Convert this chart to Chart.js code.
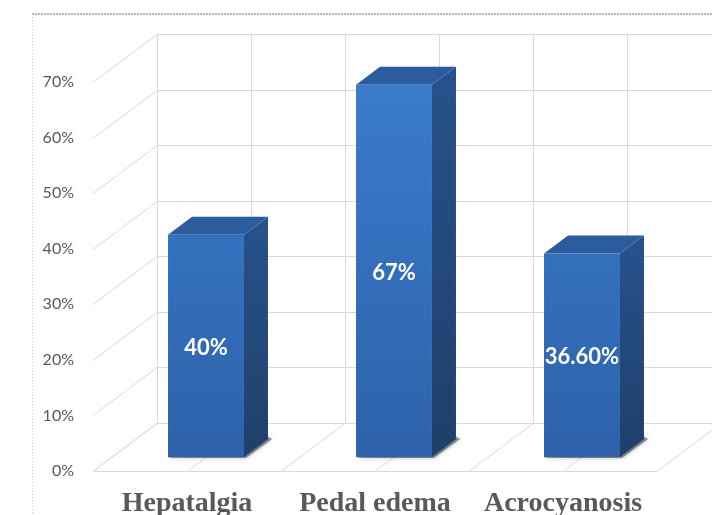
<!DOCTYPE html>
<html>
<head>
<meta charset="utf-8">
<script src="https://cdn.jsdelivr.net/npm/chart.js@4.4.0/dist/chart.umd.min.js"></script>
<style>
  body { margin: 0; background: #fff; }
  #wrap { width: 712px; height: 515px; }
</style>
</head>
<body>
<div id="wrap"><canvas id="chart" width="712" height="515"></canvas></div>
<script>
// data
const categories = ['Hepatalgia', 'Pedal edema', 'Acrocyanosis'];
const values = [40, 67, 36.6];
const valueLabels = ['40%', '67%', '36.60%'];
const yMin = 0;
const yMax = 70;
const yStep = 10;

// 3d look
const DX = 64, DY = -48;          // floor depth
const BAR_OFF = { x: 19, y: -14 }; // bar front face inside the floor
const BAR_DEPTH = { x: 24, y: -18 };
const GRID = '#d9d9d9';

const threeD = {
    id: 'threeD',
    beforeDraw(chart) {
        const ctx = chart.ctx;
        ctx.save();
        // dotted chart border
        ctx.strokeStyle = '#b8b8b8';
        ctx.lineWidth = 2;
        ctx.setLineDash([2, 1]);
        ctx.beginPath();
        ctx.moveTo(32, 14);
        ctx.lineTo(712, 14);
        ctx.stroke();
        ctx.lineWidth = 1;
        ctx.strokeStyle = '#cfcfcf';
        ctx.setLineDash([1, 2]);
        ctx.beginPath();
        ctx.moveTo(32.5, 14);
        ctx.lineTo(32.5, 515);
        ctx.stroke();
        ctx.restore();
    },
    beforeDatasetsDraw(chart) {
        const ctx = chart.ctx;
        const xs = chart.scales.x;
        const ys = chart.scales.y;
        const y0 = ys.getPixelForValue(yMin);
        const yTop = ys.getPixelForValue(yMax);

        // grid x positions: category edges and centers
        const gx = [];
        for (let i = 0; i <= categories.length * 2; i++) {
            gx.push(xs.getPixelForValue(i / 2 - 0.5));
        }

        ctx.save();
        ctx.strokeStyle = GRID;
        ctx.lineWidth = 1;
        ctx.beginPath();
        // back wall horizontals + side wall diagonals
        ys.ticks.forEach(t => {
            const y = Math.round(ys.getPixelForValue(t.value)) + 0.5;
            ctx.moveTo(gx[0] + DX, y + DY);
            ctx.lineTo(gx[gx.length - 1] + DX, y + DY);
            ctx.moveTo(gx[0], y);
            ctx.lineTo(gx[0] + DX, y + DY);
        });
        // back wall verticals + floor diagonals
        gx.forEach(x => {
            const px = Math.round(x) + 0.5;
            ctx.moveTo(px + DX, yTop + DY);
            ctx.lineTo(px + DX, y0 + DY);
            ctx.moveTo(px, y0);
            ctx.lineTo(px + DX, y0 + DY);
        });
        // front floor edge
        ctx.moveTo(gx[0], Math.round(y0) + 0.5);
        ctx.lineTo(gx[gx.length - 1], Math.round(y0) + 0.5);
        ctx.stroke();
        ctx.restore();

        // bar side and top faces, front faces come from chart.js
        ctx.save();
        ctx.translate(BAR_OFF.x, BAR_OFF.y);
        chart.getDatasetMeta(0).data.forEach(bar => {
            const { x, y, base, width } = bar.getProps(['x', 'y', 'base', 'width'], true);
            const l = x - width / 2, r = x + width / 2;
            const bx = BAR_DEPTH.x, by = BAR_DEPTH.y;

            // shadow at the base
            ctx.save();
            ctx.fillStyle = 'rgba(60,60,60,0.55)';
            ctx.shadowColor = 'rgba(0,0,0,0.5)';
            ctx.shadowBlur = 4;
            ctx.beginPath();
            ctx.moveTo(l - 1, base + 1);
            ctx.lineTo(r + 2, base + 1);
            ctx.lineTo(r + bx + 4, base + by);
            ctx.lineTo(r + bx, base + by - 2);
            ctx.closePath();
            ctx.fill();
            ctx.restore();

            // side
            const sg = ctx.createLinearGradient(0, y, 0, base);
            sg.addColorStop(0, '#27518a');
            sg.addColorStop(1, '#1f3f6a');
            ctx.fillStyle = sg;
            ctx.beginPath();
            ctx.moveTo(r, y);
            ctx.lineTo(r + bx, y + by);
            ctx.lineTo(r + bx, base + by);
            ctx.lineTo(r, base);
            ctx.closePath();
            ctx.fill();

            // top
            ctx.fillStyle = '#2b5c9e';
            ctx.beginPath();
            ctx.moveTo(l, y);
            ctx.lineTo(l + bx, y + by);
            ctx.lineTo(r + bx, y + by);
            ctx.lineTo(r, y);
            ctx.closePath();
            ctx.fill();
        });
    },
    afterDatasetsDraw(chart) {
        const ctx = chart.ctx;
        ctx.restore();
        ctx.save();
        ctx.fillStyle = '#ffffff';
        ctx.font = 'bold 22px Lato';
        ctx.textAlign = 'center';
        ctx.textBaseline = 'middle';
        chart.getDatasetMeta(0).data.forEach((bar, i) => {
            const { x, y, base } = bar.getProps(['x', 'y', 'base'], true);
            ctx.fillText(valueLabels[i], x + BAR_OFF.x, (y + base) / 2 + BAR_OFF.y + 2);
        });
        ctx.restore();
    }
};

const ctx = document.getElementById('chart').getContext('2d');

function frontFill(context) {
    const area = context.chart.chartArea;
    if (!area) return '#3572c0';
    const g = context.chart.ctx.createLinearGradient(0, area.top, 0, area.bottom);
    g.addColorStop(0, '#3b7ccd');
    g.addColorStop(1, '#2d62aa');
    return g;
}

new Chart(ctx, {
    type: 'bar',
    data: {
        labels: categories,
        datasets: [{
            data: values,
            backgroundColor: frontFill,
            borderWidth: 0,
            categoryPercentage: 1,
            barPercentage: 0.404,
            clip: false
        }]
    },
    options: {
        responsive: false,
        animation: false,
        layout: { padding: { top: 82, right: 55, left: 0, bottom: 0 } },
        plugins: {
            legend: { display: false },
            tooltip: { enabled: false }
        },
        scales: {
            x: {
                grid: { display: false },
                border: { display: false },
                ticks: {
                    color: '#595959',
                    padding: 8,
                    font: { family: 'Liberation Serif', size: 28, weight: 'bold' }
                },
                afterFit(scale) { scale.height = 44; }
            },
            y: {
                min: yMin,
                max: yMax,
                grid: { display: false, drawTicks: false },
                border: { display: false },
                ticks: {
                    stepSize: yStep,
                    color: '#595959',
                    padding: 19,
                    font: { family: 'Lato', size: 16 },
                    callback: v => v + '%'
                },
                afterFit(scale) { scale.width = 93; }
            }
        }
    },
    plugins: [threeD]
});
</script>
</body>
</html>
